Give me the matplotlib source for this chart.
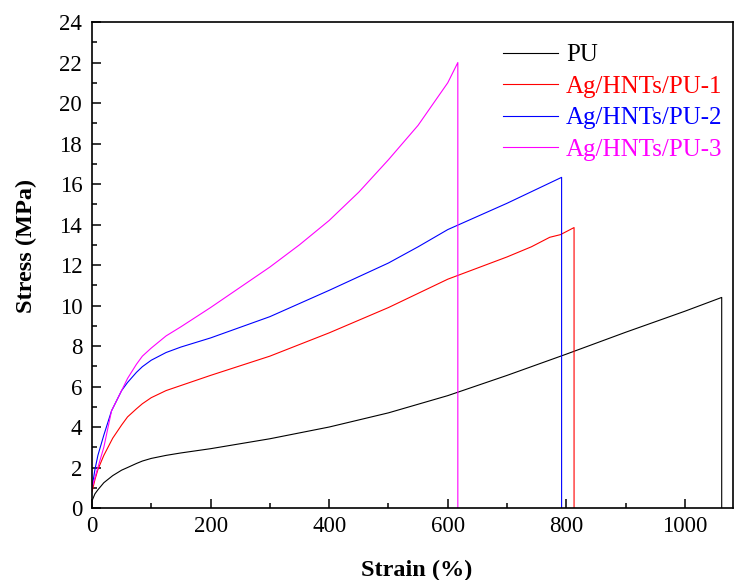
import matplotlib.pyplot as plt
from matplotlib.ticker import MultipleLocator

plt.rcParams['font.family'] = ['Liberation Serif', 'DejaVu Serif']

# strain (%) / stress (MPa), curve ends with a drop to zero
pu_strain = [0, 5, 10, 20, 35, 50, 60, 75, 85, 100, 125, 150, 200, 300, 400, 500, 600, 700, 800, 900, 1000, 1062, 1062]
pu_stress = [0.35, 0.7, 0.9, 1.25, 1.6, 1.87, 2.0, 2.2, 2.32, 2.45, 2.6, 2.72, 2.93, 3.42, 4.0, 4.7, 5.55, 6.55, 7.6, 8.68, 9.72, 10.4, 0]

pu1_strain = [0, 5, 10, 20, 35, 50, 60, 75, 85, 100, 125, 150, 200, 300, 400, 500, 600, 700, 741, 772, 790, 813, 813]
pu1_stress = [0.8, 1.4, 1.9, 2.6, 3.45, 4.1, 4.5, 4.9, 5.15, 5.45, 5.8, 6.05, 6.55, 7.5, 8.65, 9.9, 11.3, 12.4, 12.9, 13.37, 13.5, 13.85, 0]

pu2_strain = [0, 5, 10, 20, 33, 50, 60, 75, 85, 100, 125, 150, 200, 300, 400, 500, 550, 600, 700, 792, 792]
pu2_stress = [1.0, 1.9, 2.6, 3.6, 4.8, 5.8, 6.2, 6.7, 6.98, 7.3, 7.68, 7.95, 8.4, 9.45, 10.75, 12.1, 12.9, 13.75, 15.05, 16.33, 0]

pu3_strain = [0, 5, 10, 20, 33, 50, 60, 75, 85, 100, 125, 150, 200, 250, 300, 350, 400, 450, 500, 550, 600, 617, 617]
pu3_stress = [1.0, 1.5, 2.0, 3.0, 4.8, 5.8, 6.4, 7.1, 7.5, 7.9, 8.5, 8.95, 9.9, 10.9, 11.9, 13.0, 14.2, 15.6, 17.2, 18.9, 21.0, 22.0, 0]

labels = ['PU', 'Ag/HNTs/PU-1', 'Ag/HNTs/PU-2', 'Ag/HNTs/PU-3']
colors = ['black', 'red', 'blue', 'magenta']

fig = plt.figure(figsize=(7.34, 5.8), dpi=100)
ax = fig.add_axes([0.1253, 0.1241, 0.8733, 0.8379])

series = [(pu_strain, pu_stress), (pu1_strain, pu1_stress),
          (pu2_strain, pu2_stress), (pu3_strain, pu3_stress)]
for (x, y), lab, c in zip(series, labels, colors):
    ax.plot(x, y, color=c, lw=0.8, label=lab)

ax.set_xlim(0, 1081)
ax.set_ylim(0, 24)
ax.xaxis.set_major_locator(MultipleLocator(200))
ax.xaxis.set_minor_locator(MultipleLocator(100))
ax.yaxis.set_major_locator(MultipleLocator(2))
ax.yaxis.set_minor_locator(MultipleLocator(1))
ax.tick_params(which='both', direction='in', width=1.1, labelsize=16.5, top=False, right=False)
ax.tick_params(which='major', length=6.5)
ax.tick_params(which='minor', length=3.6)
ax.tick_params(axis='x', which='major', pad=6)
ax.tick_params(axis='y', which='major', pad=7)
for s in ax.spines.values():
    s.set_linewidth(1.2)

ax.set_xlabel('Strain (%)', fontsize=17.5, fontweight='bold')
ax.set_ylabel('Stress (MPa)', fontsize=17.5, fontweight='bold')
ax.xaxis.set_label_coords(0.507, -0.107)
ax.yaxis.set_label_coords(-0.086, 0.539)

leg = ax.legend(loc='upper left', bbox_to_anchor=(0.641, 0.955), frameon=False,
                fontsize=18, handlelength=2.2, handletextpad=0.32,
                labelspacing=0.36, borderpad=0, borderaxespad=0)
for txt, c in zip(leg.get_texts(), colors):
    txt.set_color(c)

fig.savefig('out.png', dpi=100)
